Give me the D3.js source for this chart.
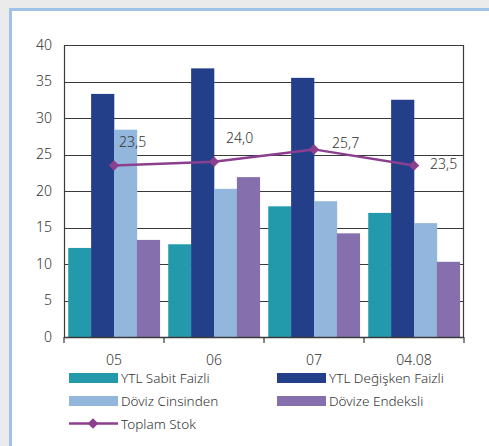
<!DOCTYPE html>
<html>
<head>
<meta charset="utf-8">
<script src="https://cdn.jsdelivr.net/npm/d3@7/dist/d3.min.js"></script>
<style>
  html, body { margin: 0; padding: 0; background: #ebebeb; }
  svg { display: block; }
  text { font-family: "Noto Sans", "DejaVu Sans", sans-serif; font-weight: 300; fill: #333; }
</style>
</head>
<body>
<svg id="chart" width="489" height="446"></svg>
<script>
// Period categories and tick labels
const categories = ["05", "06", "07", "04.08"];
const yTicks = [0, 5, 10, 15, 20, 25, 30, 35, 40];

// Series values (share, %)
const seriesNames = ["YTL Sabit Faizli", "YTL Değişken Faizli", "Döviz Cinsinden", "Dövize Endeksli"];
const ytlSabit = [12.2, 12.7, 17.9, 17.0];
const ytlDegisken = [33.3, 36.8, 35.5, 32.5];
const dovizCinsinden = [28.4, 20.3, 18.6, 15.6];
const dovizeEndeksli = [13.3, 21.9, 14.2, 10.3];
const lineName = "Toplam Stok";
const toplamStok = [23.5, 24.0, 25.7, 23.5];

const barSeries = [ytlSabit, ytlDegisken, dovizCinsinden, dovizeEndeksli];
const colors = ["#229aab", "#233f89", "#93b7dc", "#8570ad"];
const lineColor = "#8b3f8e";

const svg = d3.select("#chart");

// Panel with light blue frame
svg.append("rect").attr("x", 9).attr("y", 8).attr("width", 489).attr("height", 446)
  .attr("fill", "#9ec3e6");
svg.append("rect").attr("x", 12).attr("y", 11).attr("width", 489).attr("height", 446)
  .attr("fill", "#ffffff");

const plot = { left: 64, right: 464, top: 45, bottom: 337 };

const x = d3.scaleBand().domain(categories).range([plot.left, plot.right]).paddingInner(0).paddingOuter(0);
const xInner = d3.scaleBand().domain(d3.range(barSeries.length))
  .range([0, x.bandwidth()]).paddingOuter(0.185).paddingInner(0);
const y = d3.scaleLinear().domain([0, 40]).range([plot.bottom, plot.top]);

// Horizontal gridlines
svg.append("g").selectAll("line").data(yTicks.filter(t => t > 0 && t < 40)).join("line")
  .attr("x1", plot.left).attr("x2", plot.right)
  .attr("y1", d => Math.round(y(d)) + 0.5).attr("y2", d => Math.round(y(d)) + 0.5)
  .attr("stroke", "#3a3a3a").attr("stroke-width", 1);

// Bars
categories.forEach((c, i) => {
  barSeries.forEach((s, j) => {
    svg.append("rect")
      .attr("x", x(c) + xInner(j))
      .attr("width", xInner.bandwidth() + 0.3)
      .attr("y", y(s[i]))
      .attr("height", y(0) - y(s[i]))
      .attr("fill", colors[j]);
  });
});

// Plot frame (top and right)
svg.append("path")
  .attr("d", `M${plot.left + 0.5},${plot.bottom}V${plot.top + 0.5}H${plot.right - 0.5}V${plot.bottom}`)
  .attr("fill", "none").attr("stroke", "#3a3a3a").attr("stroke-width", 1.2);

// Y axis labels
const yAxis = d3.axisLeft(y).tickValues(yTicks).tickSize(0).tickPadding(12);
const gy = svg.append("g").attr("transform", `translate(${plot.left},0)`).call(yAxis);
gy.select(".domain").remove();
gy.selectAll("text").style("font-size", "14px").attr("fill", "#333")
  .style("font-family", "\"Noto Sans\", sans-serif").style("font-weight", 300);

// X axis with tick marks on category boundaries
svg.append("line").attr("x1", plot.left).attr("x2", plot.right)
  .attr("y1", plot.bottom + 0.5).attr("y2", plot.bottom + 0.5)
  .attr("stroke", "#3a3a3a").attr("stroke-width", 1.3);
const boundaries = categories.map(c => x(c)).concat([plot.right]);
svg.append("g").selectAll("line").data(boundaries).join("line")
  .attr("x1", d => d).attr("x2", d => d)
  .attr("y1", plot.bottom).attr("y2", plot.bottom + 6)
  .attr("stroke", "#3a3a3a").attr("stroke-width", 1.2);
svg.append("g").selectAll("text").data(categories).join("text")
  .attr("x", d => x(d) + x.bandwidth() / 2)
  .attr("y", plot.bottom + 28)
  .attr("text-anchor", "middle")
  .style("font-size", "14px")
  .text(d => d);

// Toplam Stok line with diamond markers
const cx = c => x(c) + x.bandwidth() / 2;
const line = d3.line().x((d, i) => cx(categories[i])).y(d => y(d));
svg.append("path").datum(toplamStok)
  .attr("d", line).attr("fill", "none")
  .attr("stroke", lineColor).attr("stroke-width", 2.5);
const diamond = d3.symbol().type(d3.symbolDiamond2).size(70);
svg.append("g").selectAll("path").data(toplamStok).join("path")
  .attr("transform", (d, i) => `translate(${cx(categories[i])},${y(d)})`)
  .attr("d", diamond).attr("fill", lineColor);

// Value labels, offset from each marker
const labelOffsets = [[5, -18], [12, -19], [18, -1], [16, 4]];
svg.append("g").selectAll("text").data(toplamStok).join("text")
  .attr("x", (d, i) => cx(categories[i]) + labelOffsets[i][0])
  .attr("y", (d, i) => y(d) + labelOffsets[i][1])
  .style("font-size", "14px")
  .text(d => d.toFixed(1).replace(".", ","));

// Legend
const legendItems = [
  { name: seriesNames[0], color: colors[0], lx: 69, ly: 378 },
  { name: seriesNames[1], color: colors[1], lx: 277, ly: 378 },
  { name: seriesNames[2], color: colors[2], lx: 69, ly: 401 },
  { name: seriesNames[3], color: colors[3], lx: 277, ly: 401 }
];
const lg = svg.append("g");
legendItems.forEach(it => {
  lg.append("rect").attr("x", it.lx).attr("y", it.ly - 5).attr("width", 49).attr("height", 10)
    .attr("fill", it.color);
  lg.append("text").attr("x", it.lx + 52).attr("y", it.ly + 5)
    .style("font-size", "13.5px").text(it.name);
});
lg.append("line").attr("x1", 69).attr("x2", 118).attr("y1", 423.5).attr("y2", 423.5)
  .attr("stroke", lineColor).attr("stroke-width", 2.5);
lg.append("path").attr("transform", "translate(93,423.5)").attr("d", diamond).attr("fill", lineColor);
lg.append("text").attr("x", 121).attr("y", 428.5).style("font-size", "13.5px").text(lineName);
</script>
</body>
</html>
